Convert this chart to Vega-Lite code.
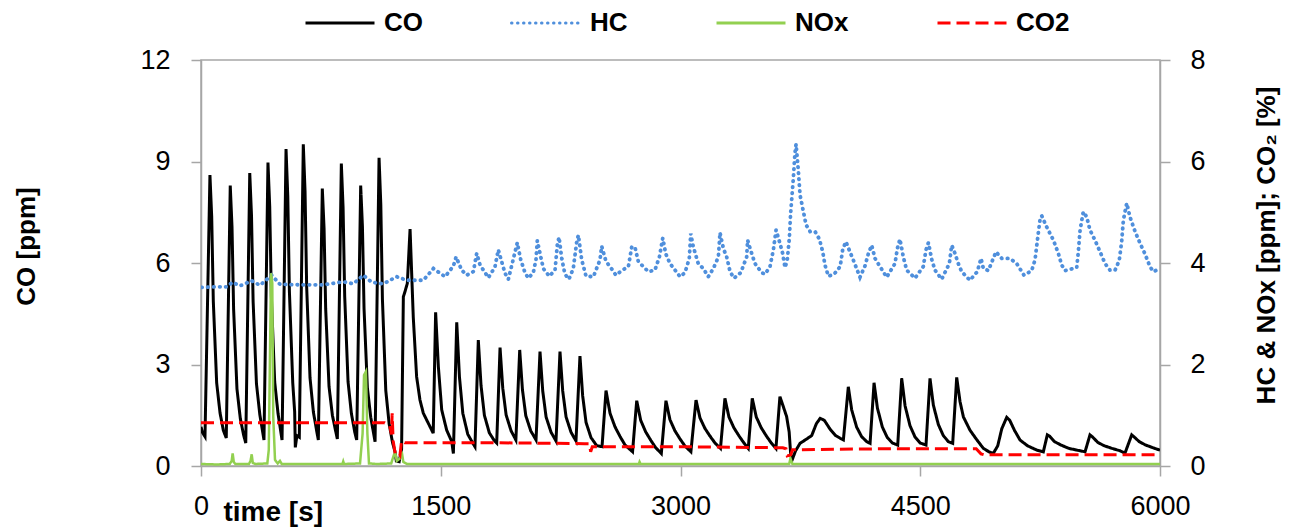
{
"$schema": "https://vega.github.io/schema/vega-lite/v6.json",
"width": 959, "height": 406,
"autosize": {"type": "none"},
"padding": {"left": 201, "top": 60, "right": 140, "bottom": 66},
"background": "white",
"config": {
 "font": "Liberation Sans",
 "view": {"stroke": "#a6a6a6", "strokeWidth": 1.5},
 "axis": {"domainColor": "#a6a6a6", "domainWidth": 1.5, "tickColor": "#a6a6a6", "tickWidth": 1.5, "tickSize": 10, "grid": false,
  "labelFont": "Liberation Sans", "labelFontSize": 27, "labelColor": "#000000", "labelFlush": false, "labelOverlap": false,
  "titleFont": "Liberation Sans", "titleFontSize": 26, "titleFontWeight": "bold", "titleColor": "#000000"}
},
"data": {"values": [
{"s":"CO","t":0,"v":1.16},{"s":"CO","t":8,"v":1.0},{"s":"CO","t":25,"v":0.87},{"s":"CO","t":56,"v":8.6},{"s":"CO","t":67,"v":7.36},{"s":"CO","t":77,"v":4.87},{"s":"CO","t":98,"v":2.46},{"s":"CO","t":119,"v":1.57},{"s":"CO","t":140,"v":1.05},{"s":"CO","t":158,"v":0.83},
{"s":"CO","t":183,"v":8.29},{"s":"CO","t":194,"v":7.07},{"s":"CO","t":204,"v":4.64},{"s":"CO","t":225,"v":2.28},{"s":"CO","t":246,"v":1.4},{"s":"CO","t":267,"v":0.91},{"s":"CO","t":280,"v":0.68},
{"s":"CO","t":305,"v":8.66},{"s":"CO","t":316,"v":7.4},{"s":"CO","t":326,"v":4.87},{"s":"CO","t":347,"v":2.43},{"s":"CO","t":368,"v":1.52},{"s":"CO","t":394,"v":0.77},
{"s":"CO","t":419,"v":8.97},{"s":"CO","t":430,"v":7.66},{"s":"CO","t":440,"v":5.03},{"s":"CO","t":461,"v":2.49},{"s":"CO","t":482,"v":1.55},{"s":"CO","t":507,"v":0.77},
{"s":"CO","t":532,"v":9.37},{"s":"CO","t":543,"v":7.97},{"s":"CO","t":553,"v":5.17},{"s":"CO","t":574,"v":2.46},{"s":"CO","t":586,"v":1.6},{"s":"CO","t":590,"v":0.55},{"s":"CO","t":600,"v":0.9},{"s":"CO","t":615,"v":0.85},
{"s":"CO","t":640,"v":9.51},{"s":"CO","t":651,"v":8.11},{"s":"CO","t":661,"v":5.31},{"s":"CO","t":682,"v":2.61},{"s":"CO","t":703,"v":1.6},{"s":"CO","t":724,"v":1.03},{"s":"CO","t":734,"v":0.77},
{"s":"CO","t":759,"v":8.2},{"s":"CO","t":770,"v":7.02},{"s":"CO","t":780,"v":4.65},{"s":"CO","t":801,"v":2.35},{"s":"CO","t":822,"v":1.5},{"s":"CO","t":843,"v":1.02},{"s":"CO","t":853,"v":0.8},
{"s":"CO","t":878,"v":8.94},{"s":"CO","t":889,"v":7.63},{"s":"CO","t":899,"v":5.02},{"s":"CO","t":920,"v":2.49},{"s":"CO","t":941,"v":1.55},{"s":"CO","t":962,"v":1.0},{"s":"CO","t":974,"v":0.77},
{"s":"CO","t":999,"v":8.29},{"s":"CO","t":1010,"v":7.08},{"s":"CO","t":1020,"v":4.66},{"s":"CO","t":1041,"v":2.31},{"s":"CO","t":1062,"v":1.44},{"s":"CO","t":1089,"v":0.72},
{"s":"CO","t":1114,"v":9.11},{"s":"CO","t":1125,"v":7.72},{"s":"CO","t":1135,"v":4.94},{"s":"CO","t":1156,"v":2.24},{"s":"CO","t":1177,"v":1.25},{"s":"CO","t":1198,"v":0.7},{"s":"CO","t":1214,"v":0.42},{"s":"CO","t":1222,"v":0.15},{"s":"CO","t":1240,"v":0.13},{"s":"CO","t":1255,"v":0.5},{"s":"CO","t":1266,"v":5.0},{"s":"CO","t":1276,"v":5.15},{"s":"CO","t":1291,"v":5.4},{"s":"CO","t":1308,"v":7.0},
{"s":"CO","t":1328,"v":4.41},{"s":"CO","t":1349,"v":2.64},{"s":"CO","t":1370,"v":1.95},{"s":"CO","t":1391,"v":1.56},{"s":"CO","t":1433,"v":1.16},{"s":"CO","t":1453,"v":0.97},
{"s":"CO","t":1468,"v":4.54},{"s":"CO","t":1485,"v":2.94},{"s":"CO","t":1506,"v":1.66},{"s":"CO","t":1537,"v":1.06},{"s":"CO","t":1569,"v":0.72},{"s":"CO","t":1579,"v":0.37},
{"s":"CO","t":1600,"v":4.25},{"s":"CO","t":1617,"v":2.63},{"s":"CO","t":1638,"v":1.56},{"s":"CO","t":1669,"v":0.94},{"s":"CO","t":1700,"v":0.68},{"s":"CO","t":1714,"v":0.57},
{"s":"CO","t":1735,"v":3.72},{"s":"CO","t":1752,"v":2.38},{"s":"CO","t":1773,"v":1.5},{"s":"CO","t":1804,"v":0.98},{"s":"CO","t":1835,"v":0.75},{"s":"CO","t":1850,"v":0.68},
{"s":"CO","t":1871,"v":3.5},{"s":"CO","t":1888,"v":2.3},{"s":"CO","t":1909,"v":1.51},{"s":"CO","t":1940,"v":1.04},{"s":"CO","t":1970,"v":0.77},
{"s":"CO","t":1994,"v":3.43},{"s":"CO","t":2011,"v":2.26},{"s":"CO","t":2032,"v":1.49},{"s":"CO","t":2063,"v":1.04},{"s":"CO","t":2096,"v":0.77},
{"s":"CO","t":2121,"v":3.38},{"s":"CO","t":2138,"v":2.22},{"s":"CO","t":2159,"v":1.45},{"s":"CO","t":2190,"v":1.0},{"s":"CO","t":2221,"v":0.74},
{"s":"CO","t":2246,"v":3.38},{"s":"CO","t":2263,"v":2.22},{"s":"CO","t":2284,"v":1.45},{"s":"CO","t":2315,"v":1.0},{"s":"CO","t":2346,"v":0.74},
{"s":"CO","t":2371,"v":3.25},{"s":"CO","t":2388,"v":2.07},{"s":"CO","t":2409,"v":1.29},{"s":"CO","t":2440,"v":0.84},{"s":"CO","t":2476,"v":0.6},{"s":"CO","t":2509,"v":0.57},
{"s":"CO","t":2534,"v":2.23},{"s":"CO","t":2559,"v":1.56},{"s":"CO","t":2590,"v":1.16},{"s":"CO","t":2622,"v":0.87},{"s":"CO","t":2653,"v":0.62},{"s":"CO","t":2700,"v":0.42},
{"s":"CO","t":2726,"v":1.93},{"s":"CO","t":2751,"v":1.35},{"s":"CO","t":2782,"v":1.01},{"s":"CO","t":2814,"v":0.76},{"s":"CO","t":2845,"v":0.54},{"s":"CO","t":2880,"v":0.37},
{"s":"CO","t":2909,"v":1.93},{"s":"CO","t":2934,"v":1.37},{"s":"CO","t":2965,"v":1.04},{"s":"CO","t":2997,"v":0.8},{"s":"CO","t":3028,"v":0.59},{"s":"CO","t":3065,"v":0.42},
{"s":"CO","t":3097,"v":1.95},{"s":"CO","t":3122,"v":1.42},{"s":"CO","t":3153,"v":1.11},{"s":"CO","t":3185,"v":0.88},{"s":"CO","t":3216,"v":0.68},{"s":"CO","t":3250,"v":0.52},
{"s":"CO","t":3278,"v":2.0},{"s":"CO","t":3303,"v":1.45},{"s":"CO","t":3334,"v":1.13},{"s":"CO","t":3366,"v":0.89},{"s":"CO","t":3397,"v":0.68},{"s":"CO","t":3424,"v":0.52},
{"s":"CO","t":3449,"v":2.0},{"s":"CO","t":3474,"v":1.45},{"s":"CO","t":3505,"v":1.13},{"s":"CO","t":3537,"v":0.89},{"s":"CO","t":3568,"v":0.68},{"s":"CO","t":3597,"v":0.52},
{"s":"CO","t":3622,"v":2.05},{"s":"CO","t":3640,"v":1.8},{"s":"CO","t":3664,"v":1.46},{"s":"CO","t":3680,"v":1.0},{"s":"CO","t":3690,"v":0.3},{"s":"CO","t":3700,"v":0.2},{"s":"CO","t":3720,"v":0.45},{"s":"CO","t":3748,"v":0.67},{"s":"CO","t":3790,"v":0.8},{"s":"CO","t":3821,"v":0.9},{"s":"CO","t":3850,"v":1.25},{"s":"CO","t":3874,"v":1.41},{"s":"CO","t":3900,"v":1.35},{"s":"CO","t":3937,"v":1.08},{"s":"CO","t":3970,"v":0.9},{"s":"CO","t":3999,"v":0.82},{"s":"CO","t":4019,"v":0.77},
{"s":"CO","t":4050,"v":2.34},{"s":"CO","t":4071,"v":1.66},{"s":"CO","t":4102,"v":1.15},{"s":"CO","t":4133,"v":0.87},{"s":"CO","t":4165,"v":0.72},{"s":"CO","t":4186,"v":0.67},
{"s":"CO","t":4211,"v":2.46},{"s":"CO","t":4232,"v":1.71},{"s":"CO","t":4263,"v":1.15},{"s":"CO","t":4294,"v":0.84},{"s":"CO","t":4326,"v":0.68},{"s":"CO","t":4359,"v":0.62},
{"s":"CO","t":4384,"v":2.59},{"s":"CO","t":4405,"v":1.78},{"s":"CO","t":4436,"v":1.19},{"s":"CO","t":4467,"v":0.86},{"s":"CO","t":4499,"v":0.68},{"s":"CO","t":4536,"v":0.62},
{"s":"CO","t":4561,"v":2.59},{"s":"CO","t":4582,"v":1.8},{"s":"CO","t":4613,"v":1.23},{"s":"CO","t":4644,"v":0.9},{"s":"CO","t":4676,"v":0.72},{"s":"CO","t":4703,"v":0.67},
{"s":"CO","t":4728,"v":2.62},{"s":"CO","t":4749,"v":1.9},{"s":"CO","t":4770,"v":1.45},{"s":"CO","t":4811,"v":1.06},{"s":"CO","t":4850,"v":0.8},{"s":"CO","t":4895,"v":0.52},{"s":"CO","t":4930,"v":0.42},{"s":"CO","t":4957,"v":0.37},
{"s":"CO","t":4985,"v":0.6},{"s":"CO","t":5010,"v":1.1},{"s":"CO","t":5041,"v":1.44},{"s":"CO","t":5060,"v":1.35},{"s":"CO","t":5090,"v":1.05},{"s":"CO","t":5124,"v":0.77},{"s":"CO","t":5170,"v":0.6},{"s":"CO","t":5229,"v":0.47},{"s":"CO","t":5270,"v":0.42},
{"s":"CO","t":5295,"v":0.92},{"s":"CO","t":5310,"v":0.88},{"s":"CO","t":5340,"v":0.72},{"s":"CO","t":5380,"v":0.62},{"s":"CO","t":5430,"v":0.52},{"s":"CO","t":5480,"v":0.47},{"s":"CO","t":5531,"v":0.42},
{"s":"CO","t":5562,"v":0.92},{"s":"CO","t":5580,"v":0.85},{"s":"CO","t":5610,"v":0.7},{"s":"CO","t":5650,"v":0.6},{"s":"CO","t":5700,"v":0.52},{"s":"CO","t":5750,"v":0.45},{"s":"CO","t":5781,"v":0.38},
{"s":"CO","t":5823,"v":0.92},{"s":"CO","t":5840,"v":0.85},{"s":"CO","t":5870,"v":0.72},{"s":"CO","t":5910,"v":0.62},{"s":"CO","t":5950,"v":0.55},{"s":"CO","t":5980,"v":0.5},{"s":"CO","t":6000,"v":0.47},
{"s":"HC","t":4,"v":3.52},{"s":"HC","t":98,"v":3.53},{"s":"HC","t":161,"v":3.53},{"s":"HC","t":196,"v":3.62},{"s":"HC","t":244,"v":3.55},{"s":"HC","t":317,"v":3.65},{"s":"HC","t":369,"v":3.56},{"s":"HC","t":442,"v":3.76},{"s":"HC","t":494,"v":3.58},{"s":"HC","t":619,"v":3.57},{"s":"HC","t":765,"v":3.57},{"s":"HC","t":890,"v":3.63},{"s":"HC","t":953,"v":3.59},{"s":"HC","t":1016,"v":3.76},{"s":"HC","t":1068,"v":3.62},{"s":"HC","t":1141,"v":3.59},{"s":"HC","t":1224,"v":3.73},{"s":"HC","t":1287,"v":3.66},{"s":"HC","t":1391,"v":3.66},{"s":"HC","t":1454,"v":3.89},{"s":"HC","t":1527,"v":3.73},{"s":"HC","t":1579,"v":3.94},{"s":"HC","t":1596,"v":4.12},{"s":"HC","t":1631,"v":3.86},{"s":"HC","t":1662,"v":3.76},{"s":"HC","t":1704,"v":3.83},{"s":"HC","t":1725,"v":4.19},{"s":"HC","t":1746,"v":3.96},{"s":"HC","t":1798,"v":3.71},{"s":"HC","t":1839,"v":3.92},{"s":"HC","t":1860,"v":4.26},{"s":"HC","t":1902,"v":3.8},{"s":"HC","t":1923,"v":3.68},{"s":"HC","t":1979,"v":4.4},{"s":"HC","t":2000,"v":4.07},{"s":"HC","t":2027,"v":3.81},{"s":"HC","t":2048,"v":3.7},{"s":"HC","t":2079,"v":3.81},{"s":"HC","t":2096,"v":4.07},{"s":"HC","t":2104,"v":4.44},{"s":"HC","t":2121,"v":4.19},{"s":"HC","t":2142,"v":3.89},{"s":"HC","t":2179,"v":3.74},{"s":"HC","t":2215,"v":3.86},{"s":"HC","t":2229,"v":4.35},{"s":"HC","t":2240,"v":4.51},{"s":"HC","t":2257,"v":4.09},{"s":"HC","t":2277,"v":3.78},{"s":"HC","t":2302,"v":3.68},{"s":"HC","t":2329,"v":3.89},{"s":"HC","t":2350,"v":4.4},{"s":"HC","t":2361,"v":4.55},{"s":"HC","t":2382,"v":4.06},{"s":"HC","t":2409,"v":3.74},{"s":"HC","t":2455,"v":3.73},{"s":"HC","t":2496,"v":4.06},{"s":"HC","t":2507,"v":4.33},{"s":"HC","t":2534,"v":4.03},{"s":"HC","t":2559,"v":3.93},{"s":"HC","t":2596,"v":3.76},{"s":"HC","t":2632,"v":3.85},{"s":"HC","t":2674,"v":3.93},{"s":"HC","t":2695,"v":4.32},{"s":"HC","t":2715,"v":4.31},{"s":"HC","t":2736,"v":4.03},{"s":"HC","t":2767,"v":3.93},{"s":"HC","t":2799,"v":3.83},{"s":"HC","t":2840,"v":3.86},{"s":"HC","t":2868,"v":4.12},{"s":"HC","t":2889,"v":4.49},{"s":"HC","t":2908,"v":4.18},{"s":"HC","t":2934,"v":3.99},{"s":"HC","t":2966,"v":3.86},{"s":"HC","t":2997,"v":3.73},{"s":"HC","t":3028,"v":3.81},{"s":"HC","t":3055,"v":4.09},{"s":"HC","t":3064,"v":4.58},{"s":"HC","t":3080,"v":4.32},{"s":"HC","t":3111,"v":3.99},{"s":"HC","t":3143,"v":3.89},{"s":"HC","t":3174,"v":3.73},{"s":"HC","t":3205,"v":3.89},{"s":"HC","t":3237,"v":4.12},{"s":"HC","t":3247,"v":4.6},{"s":"HC","t":3268,"v":4.29},{"s":"HC","t":3289,"v":4.12},{"s":"HC","t":3310,"v":3.83},{"s":"HC","t":3335,"v":3.7},{"s":"HC","t":3377,"v":3.81},{"s":"HC","t":3414,"v":4.12},{"s":"HC","t":3420,"v":4.45},{"s":"HC","t":3435,"v":4.29},{"s":"HC","t":3466,"v":3.99},{"s":"HC","t":3508,"v":3.81},{"s":"HC","t":3529,"v":3.78},{"s":"HC","t":3560,"v":3.93},{"s":"HC","t":3581,"v":4.26},{"s":"HC","t":3598,"v":4.65},{"s":"HC","t":3622,"v":4.39},{"s":"HC","t":3639,"v":4.19},{"s":"HC","t":3654,"v":3.91},{"s":"HC","t":3668,"v":4.06},{"s":"HC","t":3681,"v":4.49},{"s":"HC","t":3689,"v":4.98},{"s":"HC","t":3706,"v":5.67},{"s":"HC","t":3716,"v":6.16},{"s":"HC","t":3723,"v":6.34},{"s":"HC","t":3737,"v":5.83},{"s":"HC","t":3748,"v":5.34},{"s":"HC","t":3769,"v":5.01},{"s":"HC","t":3786,"v":4.75},{"s":"HC","t":3811,"v":4.62},{"s":"HC","t":3842,"v":4.62},{"s":"HC","t":3869,"v":4.47},{"s":"HC","t":3890,"v":4.22},{"s":"HC","t":3904,"v":3.96},{"s":"HC","t":3925,"v":3.74},{"s":"HC","t":3961,"v":3.78},{"s":"HC","t":3999,"v":3.93},{"s":"HC","t":4015,"v":4.27},{"s":"HC","t":4035,"v":4.42},{"s":"HC","t":4060,"v":4.22},{"s":"HC","t":4081,"v":4.06},{"s":"HC","t":4102,"v":3.89},{"s":"HC","t":4123,"v":3.72},{"s":"HC","t":4154,"v":3.94},{"s":"HC","t":4175,"v":4.18},{"s":"HC","t":4196,"v":4.35},{"s":"HC","t":4217,"v":4.09},{"s":"HC","t":4248,"v":3.93},{"s":"HC","t":4290,"v":3.72},{"s":"HC","t":4342,"v":3.99},{"s":"HC","t":4357,"v":4.29},{"s":"HC","t":4373,"v":4.47},{"s":"HC","t":4394,"v":4.12},{"s":"HC","t":4415,"v":3.86},{"s":"HC","t":4467,"v":3.7},{"s":"HC","t":4519,"v":3.93},{"s":"HC","t":4536,"v":4.26},{"s":"HC","t":4551,"v":4.4},{"s":"HC","t":4572,"v":4.07},{"s":"HC","t":4592,"v":3.86},{"s":"HC","t":4634,"v":3.68},{"s":"HC","t":4682,"v":3.99},{"s":"HC","t":4697,"v":4.35},{"s":"HC","t":4717,"v":4.19},{"s":"HC","t":4738,"v":3.99},{"s":"HC","t":4759,"v":3.83},{"s":"HC","t":4811,"v":3.66},{"s":"HC","t":4857,"v":3.83},{"s":"HC","t":4880,"v":4.09},{"s":"HC","t":4895,"v":3.89},{"s":"HC","t":4926,"v":3.85},{"s":"HC","t":4974,"v":4.22},{"s":"HC","t":5010,"v":4.09},{"s":"HC","t":5062,"v":4.09},{"s":"HC","t":5103,"v":3.99},{"s":"HC","t":5149,"v":3.76},{"s":"HC","t":5197,"v":3.85},{"s":"HC","t":5218,"v":4.06},{"s":"HC","t":5233,"v":4.45},{"s":"HC","t":5249,"v":4.85},{"s":"HC","t":5260,"v":4.93},{"s":"HC","t":5291,"v":4.71},{"s":"HC","t":5333,"v":4.45},{"s":"HC","t":5364,"v":4.19},{"s":"HC","t":5385,"v":3.96},{"s":"HC","t":5406,"v":3.85},{"s":"HC","t":5479,"v":3.91},{"s":"HC","t":5489,"v":4.22},{"s":"HC","t":5500,"v":4.65},{"s":"HC","t":5520,"v":5.01},{"s":"HC","t":5541,"v":4.91},{"s":"HC","t":5562,"v":4.65},{"s":"HC","t":5593,"v":4.45},{"s":"HC","t":5625,"v":4.22},{"s":"HC","t":5656,"v":3.99},{"s":"HC","t":5687,"v":3.86},{"s":"HC","t":5719,"v":3.86},{"s":"HC","t":5745,"v":4.05},{"s":"HC","t":5760,"v":4.42},{"s":"HC","t":5771,"v":4.85},{"s":"HC","t":5792,"v":5.18},{"s":"HC","t":5812,"v":4.91},{"s":"HC","t":5844,"v":4.62},{"s":"HC","t":5875,"v":4.39},{"s":"HC","t":5906,"v":4.18},{"s":"HC","t":5937,"v":3.93},{"s":"HC","t":5958,"v":3.83},{"s":"HC","t":6000,"v":3.89},
{"s":"NOx","t":0,"v":0.04},{"s":"NOx","t":100,"v":0.03},{"s":"NOx","t":180,"v":0.04},{"s":"NOx","t":192,"v":0.1},{"s":"NOx","t":198,"v":0.25},{"s":"NOx","t":205,"v":0.08},{"s":"NOx","t":215,"v":0.04},{"s":"NOx","t":300,"v":0.04},{"s":"NOx","t":310,"v":0.1},{"s":"NOx","t":317,"v":0.23},{"s":"NOx","t":324,"v":0.06},{"s":"NOx","t":340,"v":0.04},{"s":"NOx","t":415,"v":0.05},{"s":"NOx","t":424,"v":0.32},{"s":"NOx","t":432,"v":2.29},{"s":"NOx","t":438,"v":3.8},{"s":"NOx","t":446,"v":3.6},{"s":"NOx","t":452,"v":0.97},{"s":"NOx","t":463,"v":0.12},{"s":"NOx","t":480,"v":0.05},{"s":"NOx","t":494,"v":0.1},{"s":"NOx","t":505,"v":0.04},{"s":"NOx","t":700,"v":0.04},{"s":"NOx","t":885,"v":0.04},{"s":"NOx","t":890,"v":0.09},{"s":"NOx","t":895,"v":0.04},{"s":"NOx","t":995,"v":0.05},{"s":"NOx","t":1011,"v":0.64},{"s":"NOx","t":1020,"v":1.79},{"s":"NOx","t":1032,"v":1.86},{"s":"NOx","t":1041,"v":0.64},{"s":"NOx","t":1051,"v":0.05},{"s":"NOx","t":1100,"v":0.04},{"s":"NOx","t":1190,"v":0.05},{"s":"NOx","t":1205,"v":0.2},{"s":"NOx","t":1214,"v":0.28},{"s":"NOx","t":1225,"v":0.1},{"s":"NOx","t":1245,"v":0.15},{"s":"NOx","t":1256,"v":0.28},{"s":"NOx","t":1266,"v":0.08},{"s":"NOx","t":1290,"v":0.04},{"s":"NOx","t":2000,"v":0.04},{"s":"NOx","t":2740,"v":0.04},{"s":"NOx","t":2744,"v":0.08},{"s":"NOx","t":2750,"v":0.04},{"s":"NOx","t":3680,"v":0.04},{"s":"NOx","t":3688,"v":0.15},{"s":"NOx","t":3700,"v":0.04},{"s":"NOx","t":6000,"v":0.04},
{"s":"CO2","t":0,"v":0.85},{"s":"CO2","t":500,"v":0.85},{"s":"CO2","t":1000,"v":0.85},{"s":"CO2","t":1150,"v":0.85},{"s":"CO2","t":1180,"v":0.8},{"s":"CO2","t":1192,"v":0.62},{"s":"CO2","t":1196,"v":1.04},{"s":"CO2","t":1202,"v":0.5},{"s":"CO2","t":1215,"v":0.25},{"s":"CO2","t":1235,"v":0.28},{"s":"CO2","t":1245,"v":0.22},{"s":"CO2","t":1255,"v":0.5},{"s":"CO2","t":1275,"v":0.46},{"s":"CO2","t":1800,"v":0.46},{"s":"CO2","t":2400,"v":0.44},{"s":"CO2","t":2430,"v":0.44},{"s":"CO2","t":2438,"v":0.28},{"s":"CO2","t":2448,"v":0.38},{"s":"CO2","t":3000,"v":0.38},{"s":"CO2","t":3640,"v":0.36},{"s":"CO2","t":3660,"v":0.34},{"s":"CO2","t":3668,"v":0.2},{"s":"CO2","t":3690,"v":0.22},{"s":"CO2","t":3700,"v":0.32},{"s":"CO2","t":4300,"v":0.34},{"s":"CO2","t":4850,"v":0.34},{"s":"CO2","t":4880,"v":0.24},{"s":"CO2","t":4900,"v":0.22},{"s":"CO2","t":6000,"v":0.22}
]},
"encoding": {
 "x": {"field": "t", "type": "quantitative", "scale": {"domain": [0, 6000], "nice": false},
  "axis": {"values": [0, 1500, 3000, 4500, 6000], "format": "d", "title": "time [s]", "titleX": 22, "titleY": 54, "titleAlign": "left", "titleBaseline": "alphabetic", "titleAngle": 0, "titleFontSize": 28, "labelPadding": 17}},
 "color": {"field": "s", "type": "nominal", "scale": {"domain": ["CO", "HC", "NOx", "CO2"], "range": ["#000000", "#4f8fdc", "#92d050", "#ff0000"]},
  "legend": {"orient": "none", "legendX": 103, "legendY": -73, "direction": "horizontal", "columns": 4, "gridAlign": "none", "title": null, "symbolType": "stroke", "symbolSize": 4761, "symbolStrokeWidth": 3, "labelFontSize": 26, "labelFontWeight": "bold", "labelFont": "Liberation Sans", "labelColor": "#000000", "labelOffset": 8, "columnPadding": 82, "padding": 0,
   "encode": {"symbols": {"update": {"strokeCap": [{"test": "datum.value === 'HC'", "value": "round"}, {"value": "butt"}]}}}}},
 "strokeDash": {"field": "s", "type": "nominal", "scale": {"domain": ["CO", "HC", "NOx", "CO2"], "range": [[1, 0], [0.5, 5.5], [1, 0], [13, 6]]},
  "legend": {"orient": "none", "legendX": 103, "legendY": -73, "direction": "horizontal", "columns": 4, "gridAlign": "none", "title": null, "symbolType": "stroke", "symbolSize": 4761, "symbolStrokeWidth": 3, "labelFontSize": 26, "labelFontWeight": "bold", "labelFont": "Liberation Sans", "labelColor": "#000000", "labelOffset": 8, "columnPadding": 82, "padding": 0,
   "encode": {"symbols": {"update": {"strokeCap": [{"test": "datum.value === 'HC'", "value": "round"}, {"value": "butt"}]}}}}}
},
"layer": [
 {"transform": [{"filter": "datum.s == 'CO'"}],
  "mark": {"type": "line", "strokeWidth": 3, "clip": true},
  "encoding": {"y": {"field": "v", "type": "quantitative", "scale": {"domain": [0, 12], "nice": false},
   "axis": {"values": [0, 3, 6, 9, 12], "title": "CO [ppm]", "titleAngle": -90, "titleX": -167, "titleY": 186, "titleAlign": "center", "titleBaseline": "alphabetic", "labelPadding": 21}}}},
 {"encoding": {"y": {"field": "v", "type": "quantitative", "scale": {"domain": [0, 8], "nice": false},
   "axis": {"orient": "right", "values": [0, 2, 4, 6, 8], "title": "HC & NOx [ppm]; CO₂ [%]", "titleAngle": -90, "titleX": 114, "titleY": 185, "titleAlign": "center", "titleBaseline": "alphabetic", "labelPadding": 20}}},
  "layer": [
   {"transform": [{"filter": "datum.s == 'HC'"}], "mark": {"type": "line", "strokeWidth": 3.8, "strokeCap": "round", "clip": true}},
   {"transform": [{"filter": "datum.s == 'NOx'"}], "mark": {"type": "line", "strokeWidth": 2.5, "clip": true}},
   {"transform": [{"filter": "datum.s == 'CO2'"}], "mark": {"type": "line", "strokeWidth": 3, "clip": true}}
  ]}
],
"resolve": {"scale": {"y": "independent"}}
}
